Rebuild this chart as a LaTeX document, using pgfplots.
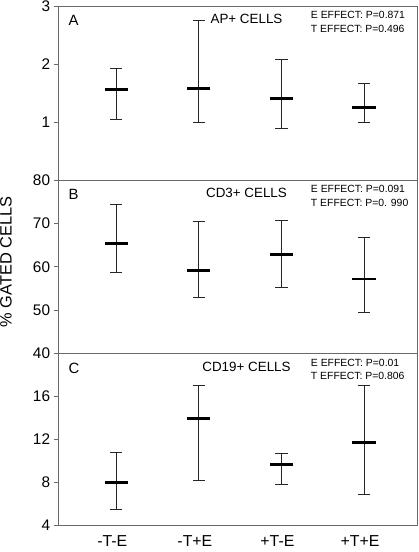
\documentclass[border=0pt]{standalone}
\usepackage{pgfplots}
\pgfplotsset{compat=1.18}
\usepackage{pgfplotstable}
\usepackage{fontspec}
\setmainfont{Liberation Sans}
\newcommand\fs[2]{\fontsize{#1}{#2}\selectfont}
\definecolor{axisgray}{RGB}{105,105,105}

\pgfplotstableread{
x m hi lo
1 1.56 1.936 1.052
2 1.585 2.76 0.993
3 1.407 2.08 0.884
4 1.252 1.672 0.993
}\dataA
\pgfplotstableread{
x m hi lo
1 65.4 74.4 58.7
2 59.2 70.45 52.95
3 62.9 70.76 55.3
4 57.2 66.8 49.5
}\dataB
\pgfplotstableread{
x m hi lo
1 8.0 10.8 5.43
2 13.92 17.0 8.14
3 9.69 10.72 7.77
4 11.73 17.0 6.86
}\dataC

\tikzset{
  lett/.style={anchor=north west, inner sep=0pt, xshift=10pt, yshift=-9pt, font=\fs{15}{18}},
  ttl/.style={anchor=north, inner sep=0pt, yshift=-8pt, font=\fs{13.5}{16}},
  eff/.style={anchor=north west, inner sep=0pt, xshift=254.3pt, yshift=-5pt, align=left, font=\fs{10.5}{14}},
}
\pgfplotsset{
  panel/.style={
    scale only axis, width=362pt,
    xmin=0.3, xmax=4.65,
    xtick={1,2,3,4}, xticklabels={},
    xtick style={draw=none},
    ytick pos=left, tick align=outside, major tick length=5pt,
    axis line style={draw=axisgray, line width=0.9pt},
    ytick style={draw=axisgray, line width=0.9pt},
    tick label style={font=\fs{15.5}{18}},
    /pgf/number format/assume math mode=true,
    clip=false,
  },
  ebar/.style={only marks, black, mark=-, mark size=11.7pt,
    mark options={line width=2.8pt},
    error bars/.cd, y dir=both, y explicit, error mark=|,
    error mark options={mark size=6.2pt, line width=0.8pt, black!85},
    error bar style={line width=0.8pt, black!85}},
}

\begin{document}
\begin{tikzpicture}
% Panel A
\begin{axis}[panel, at={(0pt,0pt)}, anchor=north west, height=175pt,
  ymin=0, ymax=3, ytick={1,2,3}]
\addplot[ebar] table[x=x, y=m, y error plus expr=\thisrow{hi}-\thisrow{m}, y error minus expr=\thisrow{m}-\thisrow{lo}] {\dataA};
\node[lett] at (rel axis cs:0,1) {A};
\node[ttl] at (rel axis cs:0.5235,1) {AP+ CELLS};
\node[eff] at (rel axis cs:0,1) {E EFFECT: P=0.871\\T EFFECT: P=0.496};
\end{axis}
% Panel B
\begin{axis}[panel, at={(0pt,-175pt)}, anchor=north west, height=175pt,
  ymin=40, ymax=80, ytick={40,50,60,70,80}]
\addplot[ebar] table[x=x, y=m, y error plus expr=\thisrow{hi}-\thisrow{m}, y error minus expr=\thisrow{m}-\thisrow{lo}] {\dataB};
\node[lett] at (rel axis cs:0,1) {B};
\node[ttl] at (rel axis cs:0.5235,1) {CD3+ CELLS};
\node[eff] at (rel axis cs:0,1) {E EFFECT: P=0.091\\T EFFECT: P=0. 990};
\node[rotate=90, anchor=north, inner sep=0pt, font=\fs{16.5}{19}] at (rel axis cs:-0.163,0.529) {\% GATED CELLS};
\end{axis}
% Panel C
\begin{axis}[panel, at={(0pt,-350pt)}, anchor=north west, height=173pt,
  ymin=4, ymax=20, ytick={4,8,12,16},
  xticklabels={-T-E,-T+E,+T-E,+T+E},
  xticklabel style={font=\fs{16}{19}, xshift=-4pt, yshift=-2pt}]
\addplot[ebar] table[x=x, y=m, y error plus expr=\thisrow{hi}-\thisrow{m}, y error minus expr=\thisrow{m}-\thisrow{lo}] {\dataC};
\node[lett] at (rel axis cs:0,1) {C};
\node[ttl] at (rel axis cs:0.5235,1) {CD19+ CELLS};
\node[eff] at (rel axis cs:0,1) {E EFFECT: P=0.01\\T EFFECT: P=0.806};
\end{axis}
\pgfresetboundingbox
\path[use as bounding box] (-59pt,6.5pt) rectangle (363pt,-550pt);
\end{tikzpicture}
\end{document}
